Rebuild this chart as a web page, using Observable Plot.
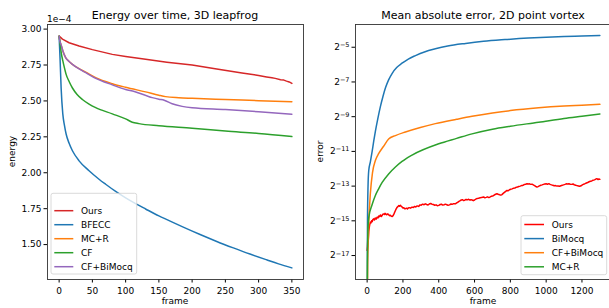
<!DOCTYPE html>
<html><head><meta charset="utf-8">
<script src="https://cdn.jsdelivr.net/npm/d3@7"></script>
<script src="https://cdn.jsdelivr.net/npm/@observablehq/plot@0.6"></script>
<style>
body{margin:0;background:#fff;overflow:hidden}
#wrap{position:relative;width:609px;height:308px;overflow:hidden;font-family:"DejaVu Sans",sans-serif}
#wrap svg{position:absolute;top:0}
</style></head>
<body><div id="wrap"></div>
<script>
// ---------- Left panel: Energy over time, 3D leapfrog (values in units of 1e-4) ----------
const leftTitle = "Energy over time, 3D leapfrog";
const leftXTicks = [0, 50, 100, 150, 200, 250, 300, 350];
const leftYTicks = [1.50, 1.75, 2.00, 2.25, 2.50, 2.75, 3.00];
const leftNames = ["Ours", "BFECC", "MC+R", "CF", "CF+BiMocq"];
const leftColors = ["#d62728", "#1f77b4", "#ff7f0e", "#2ca02c", "#9467bd"];

const energyOurs = [[0,2.951],[5,2.93],[15,2.905],[30,2.882],[50,2.857],[80,2.824],[100,2.81],[130,2.79],[162,2.77],[200,2.75],[237,2.722],[275,2.695],[300,2.677],[312,2.667],[320,2.661],[325,2.657],[333,2.648],[338,2.645],[342,2.638],[346,2.632],[350,2.622]];
const energyBFECC = [[0,2.951],[1.5,2.78],[3,2.59],[5.5,2.41],[8,2.33],[10.5,2.27],[15,2.205],[20,2.153],[30,2.083],[45,2.014],[60,1.955],[70,1.92],[85,1.87],[100,1.825],[115,1.785],[130,1.748],[150,1.70],[163,1.672],[185,1.625],[212,1.57],[237,1.522],[262,1.477],[287,1.434],[312,1.394],[330,1.366],[350,1.338]];
const energyMCR = [[0,2.951],[1,2.92],[3,2.89],[5.5,2.85],[10,2.80],[15,2.775],[20,2.755],[30,2.725],[40,2.70],[55,2.662],[80,2.62],[100,2.595],[130,2.563],[150,2.54],[160,2.53],[180,2.522],[200,2.518],[250,2.51],[300,2.502],[350,2.494]];
const energyCF = [[0,2.951],[1,2.917],[3,2.84],[5.5,2.78],[8,2.73],[10.5,2.685],[15,2.635],[20,2.59],[27,2.545],[35,2.51],[45,2.478],[55,2.453],[80,2.41],[100,2.375],[110,2.352],[120,2.342],[150,2.327],[200,2.31],[250,2.29],[300,2.274],[350,2.252]];
const energyCFBiMocq = [[0,2.951],[1,2.92],[3,2.89],[5.5,2.85],[10,2.80],[15,2.775],[20,2.755],[30,2.723],[40,2.697],[55,2.657],[80,2.612],[100,2.58],[113,2.566],[140,2.523],[150,2.512],[158,2.505],[170,2.48],[185,2.462],[200,2.452],[250,2.44],[300,2.425],[350,2.407]];
const leftSeries = [energyOurs, energyBFECC, energyMCR, energyCF, energyCFBiMocq];

// ---------- Right panel: Mean absolute error, 2D point vortex (values as log2 exponents) ----------
const rightTitle = "Mean absolute error, 2D point vortex";
const rightXTicks = [0, 200, 400, 600, 800, 1000, 1200];
const rightYExponents = [-17, -15, -13, -11, -9, -7, -5];
const rightNames = ["Ours", "BiMocq", "CF+BiMocq", "MC+R"];
const rightColors = ["#ff0000", "#1f77b4", "#ff7f0e", "#2ca02c"];

const errOursLog2 = [[0,-16.7],[2,-16.5],[4,-16.0],[6,-16.2],[9,-15.6],[11,-15.45],[13,-15.3],[16,-15.15],[18,-15.08],[21,-15.12],[25,-15.0],[28,-15.05],[32,-14.93],[37,-14.89],[41,-14.95],[45,-14.84],[50,-14.9],[56,-14.79],[61,-14.83],[65,-14.72],[70,-14.76],[74,-14.66],[80,-14.75],[84,-14.68],[88,-14.62],[93,-14.6],[97,-14.64],[100,-14.57],[105,-14.62],[110,-14.65],[116,-14.6],[121,-14.66],[126,-14.7],[130,-14.68],[135,-14.74],[140,-14.75],[145,-14.7],[150,-14.6],[155,-14.48],[160,-14.36],[164,-14.28],[167,-14.22],[172,-14.18],[176,-14.12],[181,-14.16],[186,-14.1],[190,-14.16],[195,-14.2],[200,-14.26],[205,-14.25],[210,-14.31],[214,-14.3],[220,-14.27],[225,-14.31],[230,-14.26],[235,-14.24],[242,-14.27],[251,-14.21],[258,-14.23],[265,-14.17],[272,-14.2],[280,-14.14],[288,-14.17],[295,-14.08],[302,-14.1],[310,-14.04],[318,-14.07],[325,-14.02],[333,-14.06],[340,-14.09],[347,-14.03],[355,-14.0],[362,-14.04],[370,-14.06],[378,-14.1],[385,-14.08],[392,-14.13],[400,-14.11],[408,-14.06],[415,-14.04],[422,-14.09],[430,-14.07],[437,-14.04],[445,-14.07],[452,-14.1],[460,-14.08],[468,-14.03],[475,-14.05],[483,-14.01],[493,-14.02],[500,-13.97],[507,-13.93],[513,-13.88],[520,-13.84],[526,-13.8],[532,-13.78],[539,-13.83],[545,-13.81],[552,-13.77],[560,-13.79],[567,-13.76],[575,-13.81],[580,-13.78],[586,-13.8],[593,-13.84],[600,-13.8],[607,-13.75],[615,-13.71],[622,-13.7],[632,-13.67],[640,-13.65],[650,-13.63],[658,-13.67],[665,-13.65],[672,-13.62],[680,-13.66],[688,-13.62],[695,-13.58],[705,-13.55],[712,-13.5],[718,-13.47],[725,-13.44],[732,-13.47],[740,-13.5],[747,-13.52],[753,-13.49],[760,-13.42],[767,-13.36],[774,-13.3],[781,-13.25],[788,-13.27],[795,-13.21],[802,-13.18],[810,-13.16],[818,-13.12],[825,-13.11],[832,-13.07],[840,-13.05],[847,-13.02],[855,-13.0],[862,-12.97],[870,-12.96],[877,-12.91],[885,-12.89],[893,-12.86],[900,-12.88],[907,-12.87],[914,-12.9],[921,-12.89],[928,-12.93],[935,-12.97],[942,-13.02],[949,-13.05],[955,-13.03],[962,-12.99],[970,-12.95],[977,-12.93],[985,-12.9],[992,-12.88],[1000,-12.87],[1008,-12.89],[1015,-12.86],[1022,-12.9],[1030,-12.93],[1037,-12.95],[1045,-12.98],[1052,-12.97],[1060,-13.0],[1067,-12.99],[1075,-13.01],[1082,-12.98],[1090,-12.95],[1097,-12.93],[1105,-12.9],[1112,-12.87],[1120,-12.88],[1127,-12.86],[1135,-12.89],[1142,-12.9],[1150,-12.88],[1157,-12.92],[1165,-12.95],[1172,-12.97],[1180,-12.99],[1187,-13.01],[1195,-12.98],[1202,-12.93],[1210,-12.89],[1217,-12.86],[1225,-12.82],[1232,-12.79],[1240,-12.75],[1247,-12.72],[1255,-12.7],[1262,-12.66],[1270,-12.64],[1277,-12.6],[1283,-12.57],[1290,-12.62],[1295,-12.59],[1300,-12.61]];
const errBiMocqLog2 = [[0,-22],[2,-15],[5,-13],[9,-12.1],[18,-11.6],[28,-11.0],[37,-10.4],[46,-9.85],[60,-9.1],[74,-8.42],[88,-7.85],[102,-7.35],[120,-6.88],[140,-6.5],[165,-6.17],[195,-5.92],[230,-5.68],[270,-5.48],[320,-5.27],[381,-5.09],[450,-4.93],[550,-4.78],[650,-4.66],[770,-4.56],[900,-4.47],[1000,-4.42],[1100,-4.38],[1200,-4.35],[1300,-4.32]];
const errCFBiMocqLog2 = [[0,-22],[3,-17.5],[6,-16.2],[9,-15.16],[18,-13.43],[30,-12.22],[46,-11.53],[65,-11.12],[91,-10.72],[120,-10.29],[158,-10.09],[214,-9.88],[297,-9.62],[381,-9.40],[500,-9.15],[586,-8.98],[700,-8.79],[800,-8.65],[958,-8.49],[1100,-8.39],[1200,-8.34],[1300,-8.29]];
const errMCRLog2 = [[0,-22],[1.5,-17.5],[4.5,-15.5],[9,-14.81],[28,-14.06],[46,-13.54],[65,-13.14],[84,-12.79],[120,-12.30],[158,-11.90],[195,-11.58],[214,-11.44],[251,-11.21],[400,-10.56],[500,-10.25],[586,-9.99],[700,-9.72],[800,-9.55],[958,-9.32],[1100,-9.1],[1200,-8.97],[1300,-8.84]];
const rightSeries = [errOursLog2, errBiMocqLog2, errCFBiMocqLog2, errMCRLog2];

const FONT = "DejaVu Sans";
const LW = 1.5;
const wrap = document.getElementById("wrap");

// ---- left plot ----
const leftMarks = [Plot.frame({stroke: "#333", strokeWidth: 0.9})];
leftSeries.forEach((s, i) => {
  leftMarks.push(Plot.line(s, {x: d => d[0], y: d => d[1], stroke: leftColors[i], strokeWidth: LW, curve: i === 0 ? "linear" : "monotone-x"}));
});
const leftPlot = Plot.plot({
  width: 305, height: 308,
  marginLeft: 47, marginRight: 2, marginTop: 24, marginBottom: 29,
  style: {fontFamily: FONT, fontSize: "9px", color: "#000", background: "transparent", overflow: "visible"},
  x: {domain: [-17.5, 367.5], ticks: leftXTicks, tickSize: 3.5, tickPadding: 4.5, label: null, tickFormat: d3.format("d")},
  y: {domain: [1.257, 3.032], ticks: leftYTicks, tickSize: 3.5, tickPadding: 2.5, label: null, tickFormat: d3.format(".2f")},
  marks: leftMarks
});
leftPlot.style.left = "0px";
wrap.appendChild(leftPlot);

// ---- right plot ----
const rightMarks = [Plot.frame({stroke: "#333", strokeWidth: 0.9})];
rightSeries.forEach((s, i) => {
  rightMarks.push(Plot.line(s, {x: d => d[0], y: d => Math.pow(2, d[1]), stroke: rightColors[i], strokeWidth: LW, curve: i === 0 ? "linear" : "monotone-x", clip: true}));
});
const rightPlot = Plot.plot({
  width: 308, height: 308,
  marginLeft: 50, marginRight: 2, marginTop: 24, marginBottom: 29,
  style: {fontFamily: FONT, fontSize: "9px", color: "#000", background: "transparent", overflow: "visible"},
  x: {domain: [-65, 1365], ticks: rightXTicks, tickSize: 3.5, tickPadding: 4.5, label: null, tickFormat: d3.format("d")},
  y: {type: "log", base: 2, domain: [Math.pow(2, -18.38), Math.pow(2, -3.69)], ticks: rightYExponents.map(e => Math.pow(2, e)), tickSize: 3.5, tickPadding: 2.5, label: null,
      tickFormat: v => "2|" + Math.round(Math.log2(v))},
  marks: rightMarks
});
rightPlot.style.left = "305px";
wrap.appendChild(rightPlot);

// superscript exponents on right y tick labels
rightPlot.querySelectorAll("text").forEach(t => {
  const s = t.textContent;
  if (/^2\|/.test(s)) {
    const e = s.split("|")[1].replace("-", "\u2212");
    while (t.firstChild) t.removeChild(t.firstChild);
    const ns = "http://www.w3.org/2000/svg";
    const a = document.createElementNS(ns, "tspan"); a.textContent = "2"; t.appendChild(a);
    const b = document.createElementNS(ns, "tspan"); b.textContent = e; b.setAttribute("dy", "-0.45em"); b.setAttribute("font-size", "6.5px"); t.appendChild(b);
  }
});

// ---- overlay: titles, axis labels, multiplier, legends ----
const ov = d3.select(wrap).append("svg").attr("width", 609).attr("height", 308)
  .style("left", "0px").attr("font-family", FONT).attr("fill", "#000");
ov.append("text").attr("x", 175).attr("y", 19).attr("text-anchor", "middle").attr("font-size", 11).text(leftTitle);
ov.append("text").attr("x", 483).attr("y", 19).attr("text-anchor", "middle").attr("font-size", 11).text(rightTitle);
ov.append("text").attr("x", 47).attr("y", 21.5).attr("font-size", 9).text("1e\u22124");
ov.append("text").attr("x", 175).attr("y", 304).attr("text-anchor", "middle").attr("font-size", 9).text("frame");
ov.append("text").attr("x", 483).attr("y", 304).attr("text-anchor", "middle").attr("font-size", 9).text("frame");
ov.append("text").attr("transform", "translate(15,151.5) rotate(-90)").attr("text-anchor", "middle").attr("font-size", 9).text("energy");
ov.append("text").attr("transform", "translate(323,151.5) rotate(-90)").attr("text-anchor", "middle").attr("font-size", 9).text("error");

function legend(x, y, w, h, names, colors, y0, step, lx0, lx1, tx) {
  ov.append("rect").attr("x", x).attr("y", y).attr("width", w).attr("height", h).attr("rx", 2)
    .attr("fill", "#fff").attr("fill-opacity", 0.8).attr("stroke", "#d0d0d0").attr("stroke-width", 0.8);
  names.forEach((n, i) => {
    const yy = y0 + i * step;
    ov.append("line").attr("x1", lx0).attr("x2", lx1).attr("y1", yy).attr("y2", yy).attr("stroke", colors[i]).attr("stroke-width", LW);
    ov.append("text").attr("x", tx).attr("y", yy).attr("dy", "0.35em").attr("font-size", 9).text(n);
  });
}
legend(51, 193.3, 85.7, 80.7, leftNames, leftColors, 210.7, 14, 54.3, 73.3, 81);
legend(521, 215.7, 85.7, 59, rightNames, rightColors, 224.5, 14.1, 524.3, 544, 551.7);
</script>
</body></html>
